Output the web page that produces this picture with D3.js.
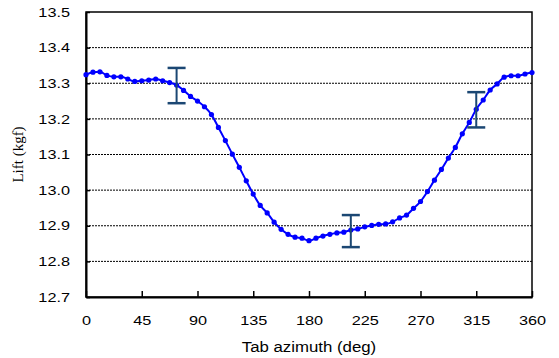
<!DOCTYPE html>
<html>
<head>
<meta charset="utf-8">
<script src="https://cdn.jsdelivr.net/npm/d3@7"></script>
<style>
  body { margin: 0; background: #fff; }
  text { font-family: "Liberation Sans", Arial, sans-serif; font-size: 13px; fill: #000; }
</style>
</head>
<body>
<script>
// tab azimuth (deg) and measured lift (kgf)
var azimuth = [0, 5.625, 11.25, 16.875, 22.5, 28.125, 33.75, 39.375, 45, 50.625, 56.25, 61.875,
  67.5, 73.125, 78.75, 84.375, 90, 95.625, 101.25, 106.875, 112.5, 118.125, 123.75, 129.375,
  135, 140.625, 146.25, 151.875, 157.5, 163.125, 168.75, 174.375, 180, 185.625, 191.25, 196.875,
  202.5, 208.125, 213.75, 219.375, 225, 230.625, 236.25, 241.875, 247.5, 253.125, 258.75, 264.375,
  270, 275.625, 281.25, 286.875, 292.5, 298.125, 303.75, 309.375, 315, 320.625, 326.25, 331.875,
  337.5, 343.125, 348.75, 354.375, 360];
var lift = [13.324, 13.331, 13.332, 13.322, 13.318, 13.318, 13.312, 13.305, 13.307, 13.309, 13.312, 13.307,
  13.302, 13.295, 13.28, 13.263, 13.25, 13.234, 13.212, 13.176, 13.139, 13.101, 13.064, 13.026,
  12.989, 12.957, 12.936, 12.91, 12.89, 12.876, 12.868, 12.865, 12.858, 12.865, 12.871, 12.876,
  12.88, 12.882, 12.888, 12.891, 12.897, 12.901, 12.904, 12.905, 12.911, 12.922, 12.93, 12.949,
  12.968, 12.996, 13.028, 13.058, 13.09, 13.12, 13.158, 13.19, 13.227, 13.253, 13.281, 13.298,
  13.317, 13.321, 13.321, 13.326, 13.33];

// error bars
var errAzimuth = [73.125, 213.75, 315];
var errLow = [13.244, 12.84, 13.176];
var errHigh = [13.343, 12.93, 13.275];

var xTicks = [0, 45, 90, 135, 180, 225, 270, 315, 360];
var yTicks = [12.7, 12.8, 12.9, 13.0, 13.1, 13.2, 13.3, 13.4, 13.5];
var gridTicks = [12.8, 12.9, 13.0, 13.1, 13.2, 13.3, 13.4];

var W = 559, H = 358;
var plotLeft = 86, plotRight = 532, plotTop = 12, plotBottom = 297;

var svg = d3.select('body').append('svg').attr('width', W).attr('height', H);

var x = d3.scaleLinear().domain([0, 360]).range([plotLeft, plotRight]);
var y = d3.scaleLinear().domain([12.7, 13.5]).range([plotBottom, plotTop]);

// the original picture is a bit wider than tall, so text looks stretched
var stretch = function(sel, k) {
  sel.each(function() {
    var w = this.getComputedTextLength();
    d3.select(this).attr('textLength', w * k).attr('lengthAdjust', 'spacingAndGlyphs');
  });
};

// dashed grid
svg.selectAll('line.grid').data(gridTicks).enter().append('line')
  .attr('class', 'grid')
  .attr('x1', plotLeft).attr('x2', plotRight)
  .attr('y1', function(d) { return y(d); }).attr('y2', function(d) { return y(d); })
  .attr('stroke', '#000').attr('stroke-width', 1).attr('stroke-dasharray', '2,1');

// plot frame
svg.append('rect')
  .attr('x', plotLeft).attr('y', plotTop).attr('width', plotRight - plotLeft).attr('height', plotBottom - plotTop)
  .attr('fill', 'none').attr('stroke', '#000').attr('stroke-width', 1.5);

// axes
var xAxis = d3.axisBottom(x).tickValues(xTicks).tickSizeInner(-6).tickSizeOuter(0).tickPadding(19)
  .tickFormat(d3.format('d'));
var gx = svg.append('g').attr('transform', 'translate(0,' + plotBottom + ')').call(xAxis);
gx.select('.domain').attr('stroke-width', 2);
gx.selectAll('.tick line').attr('stroke-width', 1.5);
gx.selectAll('text').attr('font-size', 13).attr('font-family', '"Liberation Sans", Arial, sans-serif')
  .call(stretch, 1.25);

var yAxis = d3.axisLeft(y).tickValues(yTicks).tickSizeInner(-4).tickSizeOuter(0).tickPadding(16)
  .tickFormat(d3.format('.1f'));
var gy = svg.append('g').attr('transform', 'translate(' + plotLeft + ',0)').call(yAxis);
gy.select('.domain').attr('stroke-width', 2);
gy.selectAll('.tick line').attr('stroke-width', 1.5);
gy.selectAll('text').attr('font-size', 13).attr('font-family', '"Liberation Sans", Arial, sans-serif')
  .call(stretch, 1.25);

// curve
var pts = azimuth.map(function(a, i) { return [a, lift[i]]; });
var line = d3.line().x(function(d) { return x(d[0]); }).y(function(d) { return y(d[1]); })
  .curve(d3.curveMonotoneX);
svg.append('path').datum(pts)
  .attr('d', line).attr('fill', 'none').attr('stroke', '#0000ff').attr('stroke-width', 2);
svg.selectAll('circle.pt').data(pts).enter().append('circle')
  .attr('class', 'pt')
  .attr('cx', function(d) { return x(d[0]); }).attr('cy', function(d) { return y(d[1]); })
  .attr('r', 2.6).attr('fill', '#0000ff');

// error bars
var errColor = '#1b4773';
var eb = svg.selectAll('g.err').data(errAzimuth).enter().append('g').attr('class', 'err');
eb.append('line')
  .attr('x1', function(d) { return x(d); }).attr('x2', function(d) { return x(d); })
  .attr('y1', function(d, i) { return y(errHigh[i]); }).attr('y2', function(d, i) { return y(errLow[i]); })
  .attr('stroke', errColor).attr('stroke-width', 2);
eb.append('line')
  .attr('x1', function(d) { return x(d) - 9; }).attr('x2', function(d) { return x(d) + 9; })
  .attr('y1', function(d, i) { return y(errHigh[i]); }).attr('y2', function(d, i) { return y(errHigh[i]); })
  .attr('stroke', errColor).attr('stroke-width', 2.5);
eb.append('line')
  .attr('x1', function(d) { return x(d) - 9; }).attr('x2', function(d) { return x(d) + 9; })
  .attr('y1', function(d, i) { return y(errLow[i]); }).attr('y2', function(d, i) { return y(errLow[i]); })
  .attr('stroke', errColor).attr('stroke-width', 2.5);

// titles
svg.append('text').attr('x', (plotLeft + plotRight) / 2).attr('y', 352)
  .attr('text-anchor', 'middle').attr('font-size', 14).style('font-size', '14px')
  .text('Tab azimuth (deg)')
  .call(stretch, 1.2);
svg.append('text').attr('transform', 'translate(23,' + (plotTop + plotBottom) / 2 + ') rotate(-90)')
  .attr('text-anchor', 'middle')
  .style('font-family', '"Liberation Serif", "Times New Roman", serif')
  .style('font-size', '15px')
  .text('Lift (kgf)');
</script>
</body>
</html>
